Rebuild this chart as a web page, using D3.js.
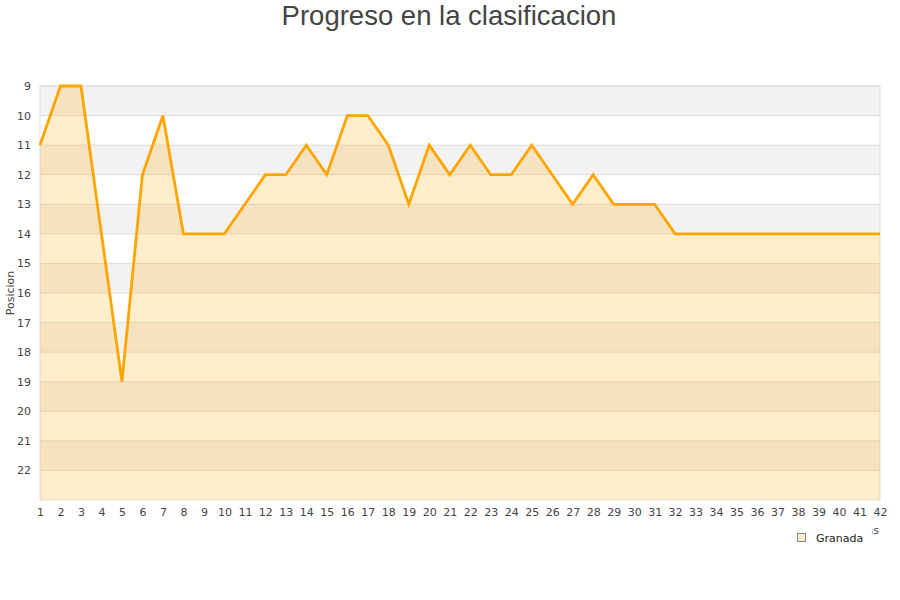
<!DOCTYPE html>
<html><head><meta charset="utf-8">
<script src="https://cdn.jsdelivr.net/npm/d3@7"></script>
<style>body{margin:0;background:#fff}svg{display:block}</style>
</head><body><svg id="c" width="900" height="600"></svg>
<script>
const jornadas = d3.range(1, 43);
const posiciones = [11,9,9,14,19,12,10,14,14,14,13,12,12,11,12,10,10,11,13,11,12,11,12,12,11,12,13,12,13,13,13,14,14,14,14,14,14,14,14,14,14,14];
const yTicks = d3.range(9, 23);
const seriesName = "Granada";
const title = "Progreso en la clasificacion";
const yTitle = "Posicion";
const xTitle = "Jornadas";

const svg = d3.select("#c");
const L = 40, R = 880, T = 86, B = 500;
const x = d3.scaleLinear().domain([1, 42]).range([L, R]);
const y = d3.scaleLinear().domain([9, 23]).range([T, B]);

// bands
svg.append("g").selectAll("rect").data(d3.range(9, 23)).join("rect")
  .attr("x", L).attr("width", R - L)
  .attr("y", d => y(d)).attr("height", d => y(d + 1) - y(d))
  .attr("fill", (d, i) => i % 2 === 0 ? "#f2f2f2" : "#ffffff");
// grid
svg.append("g").selectAll("line").data(yTicks).join("line")
  .attr("x1", L).attr("x2", R).attr("y1", d => y(d)).attr("y2", d => y(d))
  .attr("stroke", "#dddddd").attr("stroke-width", 1);
// border
svg.append("rect").attr("x", L).attr("y", T).attr("width", R - L).attr("height", B - T)
  .attr("fill", "none").attr("stroke", "#dddddd");

const data = jornadas.map((j, i) => ({j, p: posiciones[i]}));
svg.append("path").datum(data)
  .attr("d", d3.area().x(d => x(d.j)).y0(B).y1(d => y(d.p)))
  .attr("fill", "rgba(255,165,0,0.2)");
svg.append("path").datum(data)
  .attr("d", d3.line().x(d => x(d.j)).y(d => y(d.p)))
  .attr("fill", "none").attr("stroke", "#ffa500").attr("stroke-width", 2.8)
  .attr("stroke-linejoin", "miter");

// axes
const yAx = svg.append("g").attr("transform", `translate(${L},0)`)
  .call(d3.axisLeft(y).tickValues(yTicks).tickSize(0).tickPadding(9).tickFormat(d3.format("d")));
yAx.select(".domain").remove();
yAx.selectAll("text").attr("font-family", "DejaVu Sans").attr("font-size", 11).attr("fill", "#444");

const xAx = svg.append("g").attr("transform", `translate(0,${B})`)
  .call(d3.axisBottom(x).tickValues(jornadas).tickSize(0).tickPadding(8).tickFormat(d3.format("d")));
xAx.select(".domain").remove();
xAx.selectAll("text").attr("font-family", "DejaVu Sans").attr("font-size", 11).attr("fill", "#444");

svg.append("text").attr("x", 449).attr("y", 25).attr("text-anchor", "middle")
  .attr("font-family", "Liberation Sans, Arial").attr("font-size", 27.5).attr("fill", "#444").text(title);

svg.append("text").attr("transform", "translate(14,293) rotate(-90)").attr("text-anchor", "middle")
  .attr("font-family", "DejaVu Sans").attr("font-size", 11).attr("fill", "#444").text(yTitle);

svg.append("text").attr("x", 879).attr("y", 534).attr("text-anchor", "end")
  .attr("font-family", "DejaVu Sans").attr("font-size", 11).attr("fill", "#444").text(xTitle);

// legend
const lg = svg.append("g");
lg.append("rect").attr("x", 792).attr("y", 526).attr("width", 80).attr("height", 22).attr("fill", "#fff");
lg.append("rect").attr("x", 797.5).attr("y", 533.5).attr("width", 8).attr("height", 8)
  .attr("fill", "#ffedcc").attr("stroke", "#888").attr("stroke-width", 1);
lg.append("text").attr("x", 816).attr("y", 541.5)
  .attr("font-family", "DejaVu Sans").attr("font-size", 11).attr("fill", "#222").text(seriesName);
</script></body></html>
